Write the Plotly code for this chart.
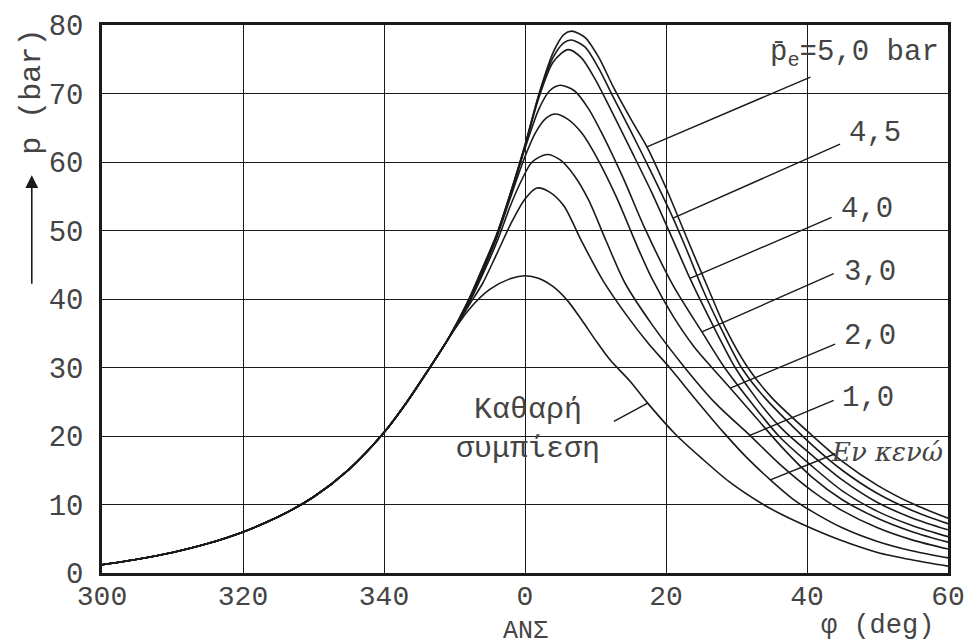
import numpy as np
import plotly.graph_objects as go

# ---------------- data (crank angle in deg, 360 = ΑΝΣ/TDC; pressure in bar) ----------------
# Καθαρή συμπίεση (motoring)
phi_motor = [300, 305, 310, 315, 320, 325, 330, 335, 340, 343, 346, 349, 352, 355, 358, 360,
             362, 364, 366, 368, 370, 372, 374.9, 377.4, 381.3, 385, 389, 393.8, 396.5, 400.7,
             405, 410, 415, 420]
p_motor = [1.2, 2.0, 3.0, 4.3, 6.0, 8.2, 11.1, 15.1, 20.5, 24.6, 29.2, 34.0, 38.4, 41.4, 43.0, 43.4,
           43.0, 41.8, 39.8, 37.0, 34.0, 31.2, 28.0, 24.8, 20.3, 16.8, 13.3, 10.0, 8.5, 6.5,
           4.7, 3.0, 1.9, 1.0]

# common compression branch of the fired curves
phi_comp = [300, 305, 310, 315, 320, 325, 330, 335, 340, 343, 346, 349]
p_comp = [1.2, 2.0, 3.0, 4.3, 6.0, 8.2, 11.1, 15.1, 20.5, 24.6, 29.2, 34.0]

# Εν κενώ (idle)
phi_idle = [352, 354, 356, 358, 360, 361.7, 363.5, 365.5, 368, 371, 374.5, 377.5, 380.5, 384,
            388.1, 391.5, 394.8, 398, 400.7, 405, 410, 415, 420]
p_idle = [39.0, 42.3, 46.6, 51.0, 54.6, 56.2, 55.6, 53.6, 48.5, 42.8, 37.5, 33.5, 30.0, 25.6,
          20.6, 16.8, 13.6, 10.8, 9.0, 6.6, 4.6, 3.2, 2.2]

# pe = 1,0 bar
phi_10 = [352, 354, 356, 358, 359.5, 361, 363.1, 365, 367, 369, 371.5, 374.2, 378, 382.5, 387,
          391.9, 396, 400.7, 405, 410, 415, 420]
p_10 = [39.3, 43.6, 48.3, 53.8, 57.3, 60.0, 61.1, 60.3, 58.0, 54.5, 48.5, 42.3, 36.3, 30.2, 24.8,
        20.1, 16.0, 12.0, 9.1, 6.6, 4.8, 3.5]

# pe = 2,0 bar
phi_20 = [352, 354, 356, 358, 360, 361.5, 363, 364.3, 366, 368, 370, 373, 376, 378, 381, 384,
          386.5, 389.1, 393, 396.5, 400.7, 405, 410, 415, 420]
p_20 = [39.5, 44.0, 49.0, 55.0, 60.8, 64.3, 66.4, 67.0, 66.3, 64.3, 61.0, 54.8, 47.5, 43.0, 37.5,
        33.0, 30.0, 27.0, 22.4, 18.3, 14.0, 10.7, 8.0, 6.0, 4.5]

# pe = 3,0 bar
phi_30 = [352, 354, 356, 358, 360, 362, 363.5, 365, 367, 369, 371, 374, 377, 381, 385.1, 388.3,
          392, 396, 400.7, 405, 410, 415, 420]
p_30 = [39.6, 44.3, 49.2, 55.3, 62.0, 67.8, 70.4, 71.2, 70.4, 67.8, 64.0, 57.5, 50.3, 42.0, 35.2,
        30.0, 25.0, 20.0, 15.6, 12.0, 9.0, 6.9, 5.3]

# pe = 4,0 bar
phi_40 = [352, 354, 356, 358, 360, 362, 364, 366.1, 368, 370, 372, 375, 378, 381, 383.4, 386,
          389.8, 393, 396.5, 400.7, 405, 410, 415, 420]
p_40 = [39.7, 44.4, 49.3, 55.5, 62.3, 69.5, 74.6, 76.4, 75.2, 72.0, 68.0, 61.8, 55.5, 48.6, 43.0,
        37.5, 30.0, 25.2, 21.0, 17.2, 13.6, 10.3, 8.0, 6.3]

# pe = 4,5 bar
phi_45 = [352, 354, 356, 358, 360, 362, 364, 365.5, 366.6, 368.5, 370.5, 372.5, 375, 378, 381,
          383, 385.3, 388, 390.7, 394, 400.7, 405, 410, 415, 420]
p_45 = [39.8, 44.5, 49.4, 55.6, 62.4, 69.8, 75.3, 77.4, 77.8, 76.8, 73.6, 69.5, 64.5, 58.3, 51.8,
        47.0, 41.2, 35.3, 30.0, 25.6, 18.7, 15.0, 11.6, 9.1, 7.2]

# pe = 5,0 bar
phi_50 = [352, 354, 356, 358, 360, 362, 364, 365.5, 366.6, 368.5, 370.5, 372.5, 375, 377.3, 380,
          383, 386, 388.5, 391.6, 395, 400.7, 405, 410, 415, 420]
p_50 = [39.9, 44.6, 49.5, 55.7, 62.5, 70.0, 76.0, 78.6, 79.1, 78.2, 75.2, 71.0, 66.3, 62.2, 56.2,
        48.8, 41.5, 35.6, 30.0, 25.6, 20.1, 16.3, 12.8, 10.1, 8.0]

x_tickvals = [300, 320, 340, 360, 380, 400, 420]
x_ticktext = ["300", "320", "340", "0", "20", "40", "60"]
y_tickvals = [0, 10, 20, 30, 40, 50, 60, 70, 80]

curves = {
    "motor": (phi_motor, p_motor),
    "idle": (phi_comp + phi_idle, p_comp + p_idle),
    "10": (phi_comp + phi_10, p_comp + p_10),
    "20": (phi_comp + phi_20, p_comp + p_20),
    "30": (phi_comp + phi_30, p_comp + p_30),
    "40": (phi_comp + phi_40, p_comp + p_40),
    "45": (phi_comp + phi_45, p_comp + p_45),
    "50": (phi_comp + phi_50, p_comp + p_50),
}

# label: (text, curve, x on curve, leader end x, leader end y, text x, text y)
labels = [
    ("4,5", "45", 381.0, 404.9, 62.7, 409.6, 64.2),
    ("4,0", "40", 383.4, 403.7, 52.0, 408.5, 53.0),
    ("3,0", "30", 385.1, 404.0, 43.8, 408.9, 43.8),
    ("2,0", "20", 389.1, 404.2, 33.5, 408.9, 34.5),
    ("1,0", "10", 391.9, 404.0, 25.3, 408.7, 25.5),
]

FONT = "Liberation Mono, Courier New, monospace"
INK = "#1a1a1a"
TXT = "#444444"

fig = go.Figure()
for name, (xs, ys) in curves.items():
    fig.add_trace(go.Scatter(x=xs, y=ys, mode="lines",
                             line=dict(color=INK, width=1.6, shape="spline", smoothing=0.8),
                             hoverinfo="skip", showlegend=False))


def on_curve(key, x):
    xs, ys = curves[key]
    return float(np.interp(x, xs, ys))


ann = []


def leader(x0, y0, x1, y1):
    ann.append(dict(x=x0, y=y0, ax=x1, ay=y1, xref="x", yref="y", axref="x", ayref="y",
                    text="", showarrow=True, arrowhead=0, arrowwidth=1.4, arrowcolor=INK))


# 5,0 bar
leader(377.3, on_curve("50", 377.3), 400.7, 72.5)
ann.append(dict(x=419.0, y=75.8, xref="x", yref="y", xanchor="right", yanchor="middle", showarrow=False,
                text="p\u0304<sub>e</sub>=5,0 bar", font=dict(family=FONT, size=29, color=TXT)))
for txt, key, cx, ex, ey, tx, ty in labels:
    leader(cx, on_curve(key, cx), ex, ey)
    ann.append(dict(x=tx, y=ty, xref="x", yref="y", showarrow=False, text=txt,
                    font=dict(family=FONT, size=29, color=TXT)))
# idle
leader(394.8, on_curve("idle", 394.8), 404.2, 17.5)
ann.append(dict(x=411.3, y=17.7, xref="x", yref="y", showarrow=False, text="Εν κενώ",
                font=dict(family="DejaVu Serif, serif", size=26, color=TXT, style="italic")))
# motoring
leader(377.4, on_curve("motor", 377.4), 372.4, 22.0)
ann.append(dict(x=360.4, y=20.9, xref="x", yref="y", showarrow=False, text="Καθαρή<br>συμπίεση",
                font=dict(family=FONT, size=30, color=TXT)))

# axis titles
ann.append(dict(x=-0.083, y=0.878, xref="paper", yref="paper", xanchor="center", yanchor="middle",
                showarrow=False, text="p (bar)", textangle=-90, font=dict(family=FONT, size=30, color=TXT)))
ann.append(dict(x=-0.083, y=0.726, xref="paper", yref="paper", ax=0, ay=110, text="", showarrow=True,
                arrowhead=2, arrowsize=1.6, arrowwidth=1.6, arrowcolor=INK))
ann.append(dict(x=360, y=-0.106, xref="x", yref="paper", xanchor="center", yanchor="middle",
                showarrow=False, text="ΑΝΣ", font=dict(family=FONT, size=25, color=TXT)))
ann.append(dict(x=410.0, y=-0.097, xref="x", yref="paper", xanchor="center", yanchor="middle",
                showarrow=False, text="φ (deg)", font=dict(family=FONT, size=27, color=TXT)))

fig.update_layout(
    width=971, height=642,
    margin=dict(l=102, r=23, t=25, b=69, autoexpand=False),
    paper_bgcolor="white", plot_bgcolor="white",
    annotations=ann,
    xaxis=dict(range=[300, 420], tickvals=x_tickvals, ticktext=x_ticktext, showgrid=True,
               gridcolor=INK, gridwidth=1.4, zeroline=False, showline=True, linecolor=INK, linewidth=2.5,
               mirror=True, ticks="", automargin=False, ticklabelstandoff=-4,
               tickfont=dict(family=FONT, size=28, color=TXT)),
    yaxis=dict(range=[0, 80], tickvals=y_tickvals, showgrid=True, gridcolor=INK, gridwidth=1.4,
               zeroline=False, showline=True, linecolor=INK, linewidth=2.5, mirror=True, ticks="",
               automargin=False, ticklabelstandoff=10, tickfont=dict(family=FONT, size=29, color=TXT)),
)

fig.write_html("out.html", config={"displayModeBar": False},
               post_script="document.body.style.margin='0px';")
